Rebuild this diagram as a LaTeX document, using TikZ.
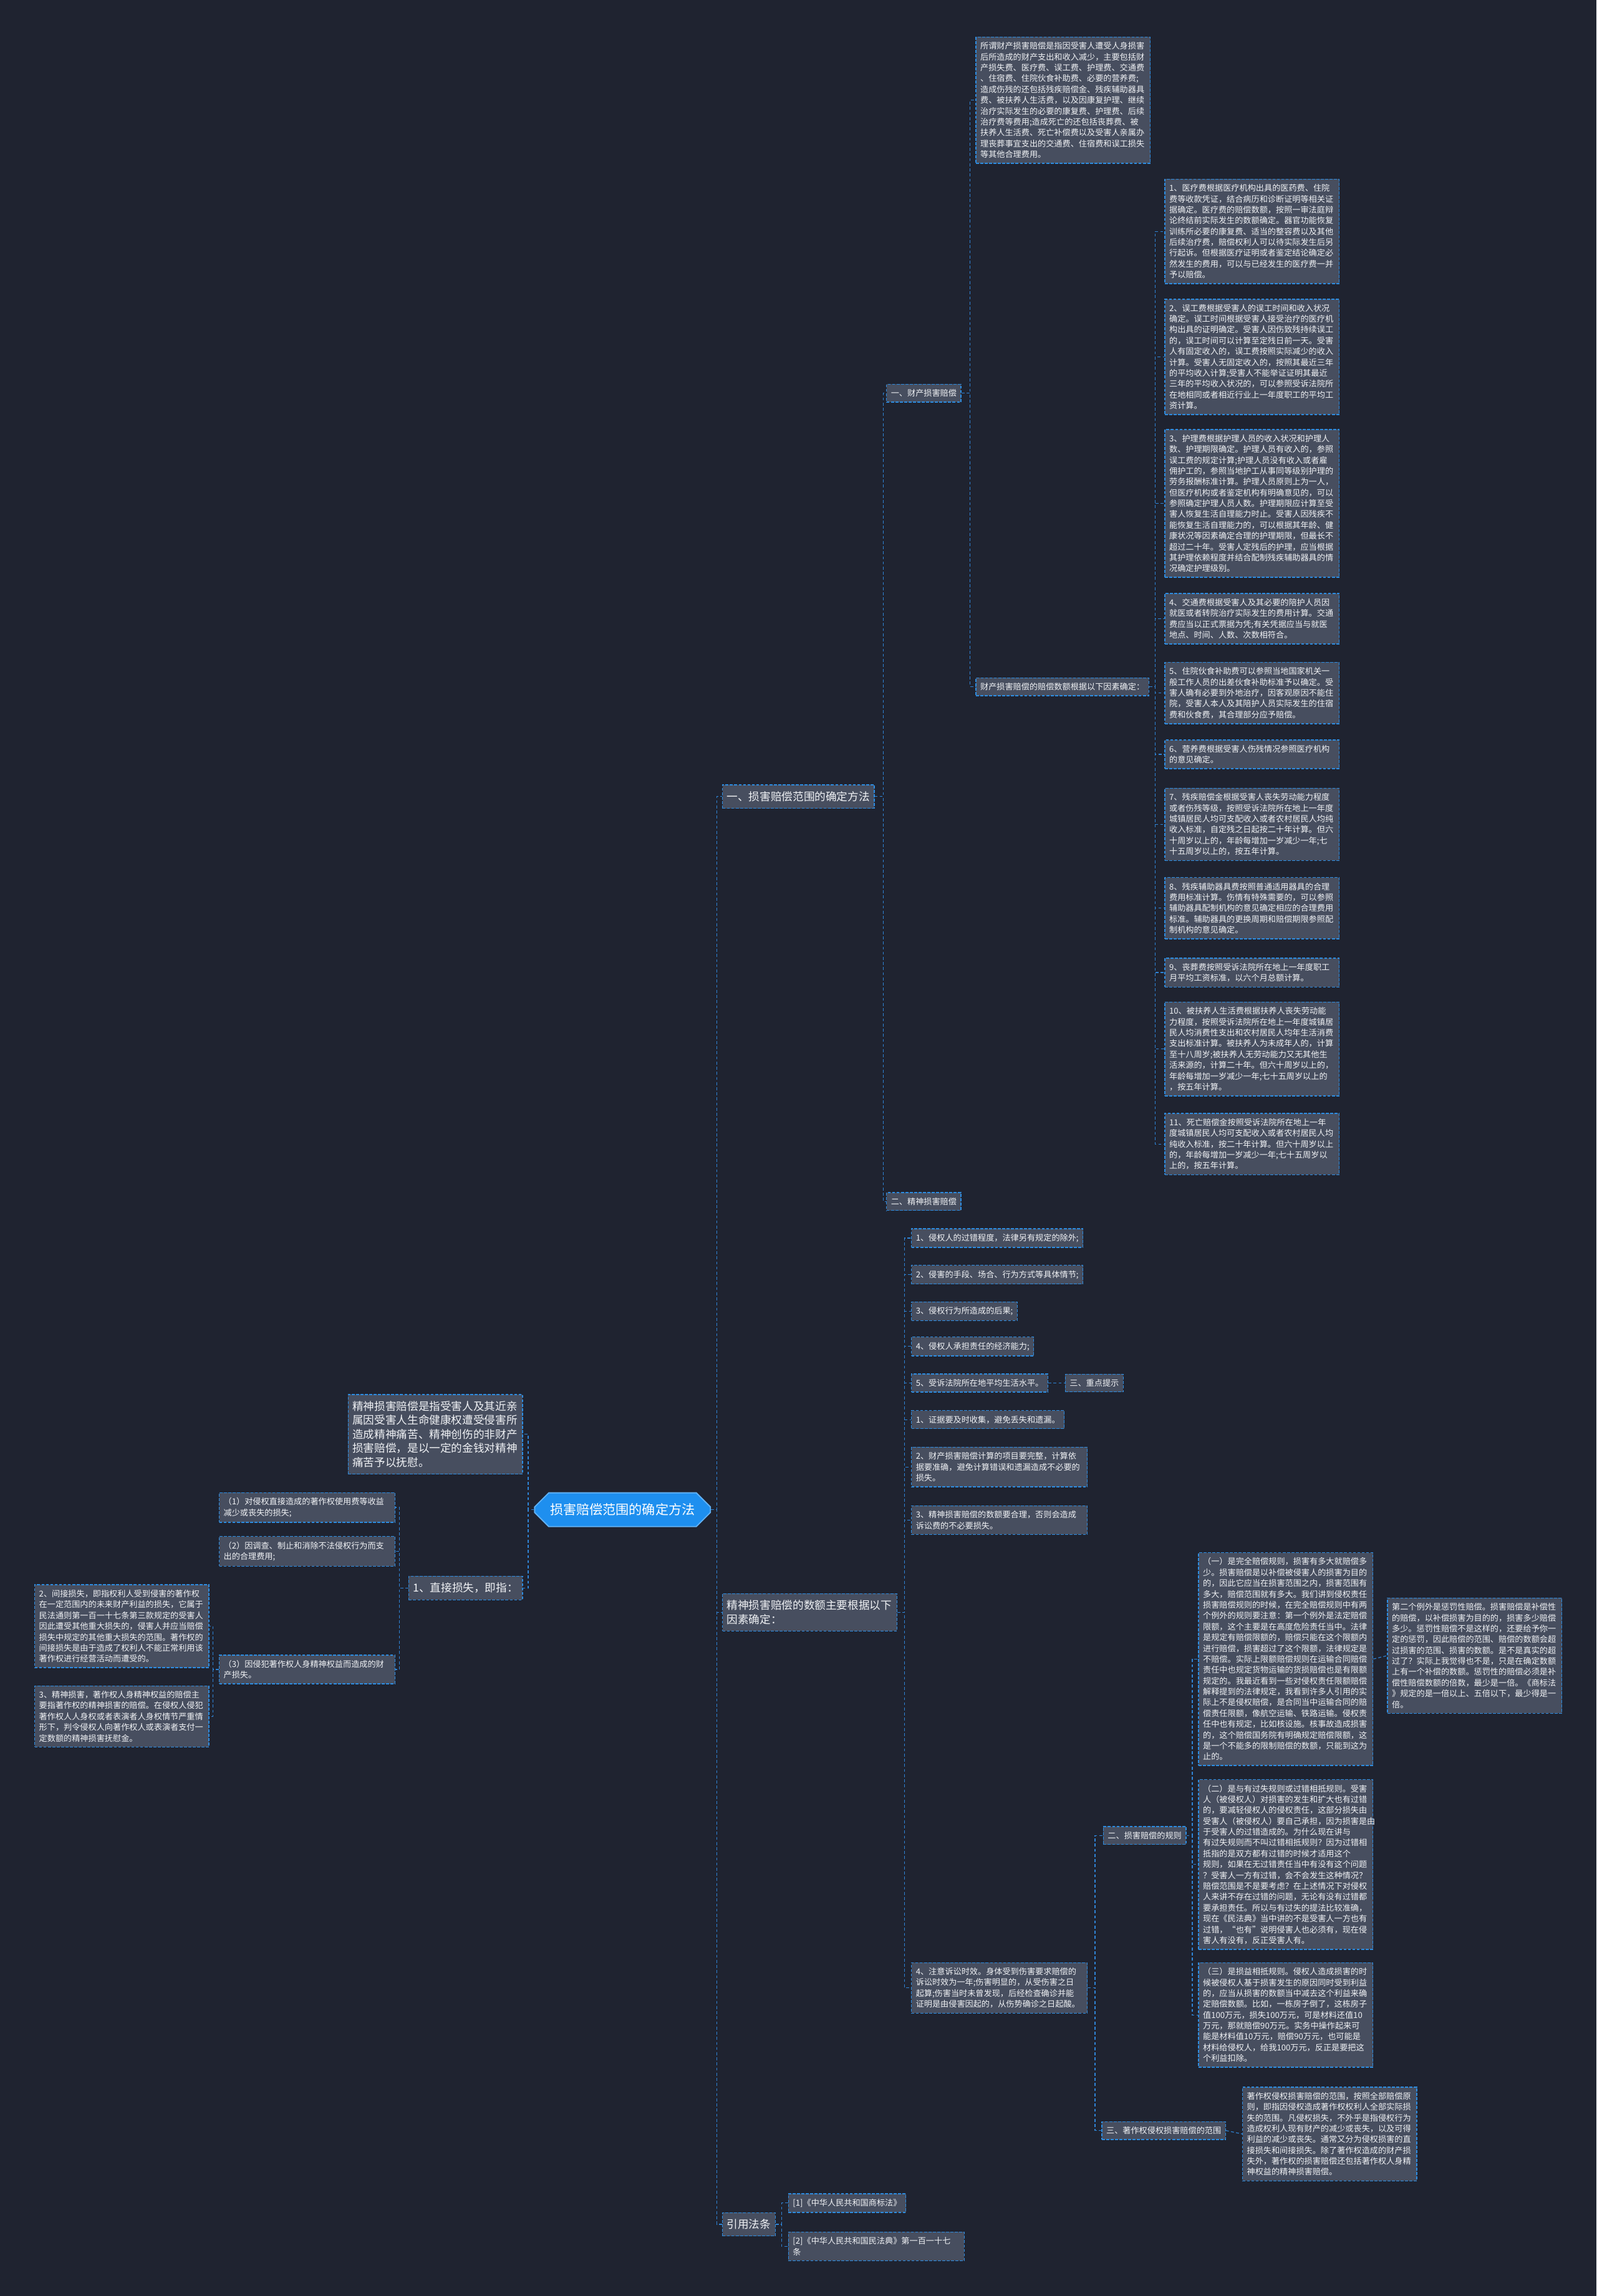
\documentclass[tikz,border=0pt]{standalone}
\usepackage{fontspec}
\setmainfont{Noto Sans CJK SC}
\usetikzlibrary{shapes.misc}

\definecolor{bgnavy}{HTML}{1F2330}
\definecolor{boxfill}{HTML}{474E5F}
\definecolor{edgeblue}{HTML}{2D8CE0}
\definecolor{linkblue}{HTML}{2F84D6}
\definecolor{txtwhite}{HTML}{F0F2F5}
\definecolor{rootblue}{HTML}{1E8FEF}

\tikzset{
  box/.style={draw=edgeblue, fill=boxfill, text=txtwhite, line width=0.6pt,
    dash pattern=on 2pt off 1pt, inner xsep=3pt, inner ysep=3.5pt,
    align=left, font=\fontsize{5.6}{7.4}\selectfont},
  para/.style={box, text width=#1},
  para/.default=113pt,
  bigbox/.style={box, inner ysep=4.5pt, font=\fontsize{7.5}{9.6}\selectfont},
  rootbox/.style={chamfered rectangle, chamfered rectangle xsep=6pt,
    fill=rootblue, draw=rootblue!70!white, line width=0.8pt, text=white,
    minimum width=120pt, minimum height=23pt, inner xsep=4pt,
    font=\fontsize{9}{11}\selectfont},
  link/.style={draw=linkblue, line width=0.5pt, dash pattern=on 2pt off 1.5pt}
}

\begin{document}
\begin{tikzpicture}[x=1pt,y=-1pt]

% Background
\fill[bgnavy] (0,0) rectangle (1090,1568);
\useasboundingbox (0,0) rectangle (1090,1568);

% Root
\node[rootbox] (root) at (425,1031) {损害赔偿范围的确定方法};

% Right main branches
\node[bigbox, anchor=west] (fangfa) at (493,544) {一、损害赔偿范围的确定方法};
\node[bigbox, anchor=north west, text width=113pt] (shue) at (493,1088)
  {精神损害赔偿的数额主要根据以下\\因素确定：};
\node[bigbox, anchor=west] (yinyong) at (493,1519) {引用法条};

% Section one
\node[box, anchor=west] (caichan) at (605,268.5) {一、财产损害赔偿};
\node[box, anchor=west] (jingshen) at (605,820.5) {二、精神损害赔偿};

\node[para, anchor=north west] (cdef) at (666,25)
  {所谓财产损害赔偿是指因受害人遭受人身损害\\后所造成的财产支出和收入减少，主要包括财\\产损失费、医疗费、误工费、护理费、交通费\\、住宿费、住院伙食补助费、必要的营养费;\\造成伤残的还包括残疾赔偿金、残疾辅助器具\\费、被扶养人生活费，以及因康复护理、继续\\治疗实际发生的必要的康复费、护理费、后续\\治疗费等费用;造成死亡的还包括丧葬费、被\\扶养人生活费、死亡补偿费以及受害人亲属办\\理丧葬事宜支出的交通费、住宿费和误工损失\\等其他合理费用。};
\node[box, anchor=west] (cyinsu) at (666,469) {财产损害赔偿的赔偿数额根据以下因素确定：};

% Eleven items
\node[para, anchor=north west] (f1) at (795,122)
  {1、医疗费根据医疗机构出具的医药费、住院\\费等收款凭证，结合病历和诊断证明等相关证\\据确定。医疗费的赔偿数额，按照一审法庭辩\\论终结前实际发生的数额确定。器官功能恢复\\训练所必要的康复费、适当的整容费以及其他\\后续治疗费，赔偿权利人可以待实际发生后另\\行起诉。但根据医疗证明或者鉴定结论确定必\\然发生的费用，可以与已经发生的医疗费一并\\予以赔偿。};
\node[para, anchor=north west] (f2) at (795,204)
  {2、误工费根据受害人的误工时间和收入状况\\确定。误工时间根据受害人接受治疗的医疗机\\构出具的证明确定。受害人因伤致残持续误工\\的，误工时间可以计算至定残日前一天。受害\\人有固定收入的，误工费按照实际减少的收入\\计算。受害人无固定收入的，按照其最近三年\\的平均收入计算;受害人不能举证证明其最近\\三年的平均收入状况的，可以参照受诉法院所\\在地相同或者相近行业上一年度职工的平均工\\资计算。};
\node[para, anchor=north west] (f3) at (795,293)
  {3、护理费根据护理人员的收入状况和护理人\\数、护理期限确定。护理人员有收入的，参照\\误工费的规定计算;护理人员没有收入或者雇\\佣护工的，参照当地护工从事同等级别护理的\\劳务报酬标准计算。护理人员原则上为一人，\\但医疗机构或者鉴定机构有明确意见的，可以\\参照确定护理人员人数。护理期限应计算至受\\害人恢复生活自理能力时止。受害人因残疾不\\能恢复生活自理能力的，可以根据其年龄、健\\康状况等因素确定合理的护理期限，但最长不\\超过二十年。受害人定残后的护理，应当根据\\其护理依赖程度并结合配制残疾辅助器具的情\\况确定护理级别。};
\node[para, anchor=north west] (f4) at (795,405)
  {4、交通费根据受害人及其必要的陪护人员因\\就医或者转院治疗实际发生的费用计算。交通\\费应当以正式票据为凭;有关凭据应当与就医\\地点、时间、人数、次数相符合。};
\node[para, anchor=north west] (f5) at (795,452)
  {5、住院伙食补助费可以参照当地国家机关一\\般工作人员的出差伙食补助标准予以确定。受\\害人确有必要到外地治疗，因客观原因不能住\\院，受害人本人及其陪护人员实际发生的住宿\\费和伙食费，其合理部分应予赔偿。};
\node[para, anchor=north west] (f6) at (795,505)
  {6、营养费根据受害人伤残情况参照医疗机构\\的意见确定。};
\node[para, anchor=north west] (f7) at (795,538)
  {7、残疾赔偿金根据受害人丧失劳动能力程度\\或者伤残等级，按照受诉法院所在地上一年度\\城镇居民人均可支配收入或者农村居民人均纯\\收入标准，自定残之日起按二十年计算。但六\\十周岁以上的，年龄每增加一岁减少一年;七\\十五周岁以上的，按五年计算。};
\node[para, anchor=north west] (f8) at (795,599)
  {8、残疾辅助器具费按照普通适用器具的合理\\费用标准计算。伤情有特殊需要的，可以参照\\辅助器具配制机构的意见确定相应的合理费用\\标准。辅助器具的更换周期和赔偿期限参照配\\制机构的意见确定。};
\node[para, anchor=north west] (f9) at (795,654)
  {9、丧葬费按照受诉法院所在地上一年度职工\\月平均工资标准，以六个月总额计算。};
\node[para, anchor=north west] (f10) at (795,684)
  {10、被扶养人生活费根据扶养人丧失劳动能\\力程度，按照受诉法院所在地上一年度城镇居\\民人均消费性支出和农村居民人均年生活消费\\支出标准计算。被扶养人为未成年人的，计算\\至十八周岁;被扶养人无劳动能力又无其他生\\活来源的，计算二十年。但六十周岁以上的，\\年龄每增加一岁减少一年;七十五周岁以上的\\，按五年计算。};
\node[para, anchor=north west] (f11) at (795,760)
  {11、死亡赔偿金按照受诉法院所在地上一年\\度城镇居民人均可支配收入或者农村居民人均\\纯收入标准，按二十年计算。但六十周岁以上\\的，年龄每增加一岁减少一年;七十五周岁以\\上的，按五年计算。};

% Factors for mental damage
\node[box, anchor=west] (s1) at (622,845.5) {1、侵权人的过错程度，法律另有规定的除外;};
\node[box, anchor=west] (s2) at (622,870.5) {2、侵害的手段、场合、行为方式等具体情节;};
\node[box, anchor=west] (s3) at (622,895.5) {3、侵权行为所造成的后果;};
\node[box, anchor=west] (s4) at (622,919.5) {4、侵权人承担责任的经济能力;};
\node[box, anchor=west] (s5) at (622,944.5) {5、受诉法院所在地平均生活水平。};
\node[box, anchor=west] (tishi) at (727,944.5) {三、重点提示};
\node[box, anchor=west] (t1) at (622,969.5) {1、证据要及时收集，避免丢失和遗漏。};
\node[para=114pt, anchor=north west] (t2) at (622,988)
  {2、财产损害赔偿计算的项目要完整，计算依\\据要准确，避免计算错误和遗漏造成不必要的\\损失。};
\node[para=114pt, anchor=north west] (t3) at (622,1028)
  {3、精神损害赔偿的数额要合理，否则会造成\\诉讼费的不必要损失。};
\node[para=114pt, anchor=north west] (t4) at (622,1340)
  {4、注意诉讼时效。身体受到伤害要求赔偿的\\诉讼时效为一年;伤害明显的，从受伤害之日\\起算;伤害当时未曾发现，后经检查确诊并能\\证明是由侵害因起的，从伤势确诊之日起酸。};

% Rules of compensation
\node[box, anchor=west] (guize) at (753,1253.5) {二、损害赔偿的规则};
\node[box, anchor=west] (zzq) at (752,1455) {三、著作权侵权损害赔偿的范围};

\node[para, anchor=north west] (g1) at (818,1060)
  {（一）是完全赔偿规则，损害有多大就赔偿多\\少。损害赔偿是以补偿被侵害人的损害为目的\\的，因此它应当在损害范围之内，损害范围有\\多大，赔偿范围就有多大。我们讲到侵权责任\\损害赔偿规则的时候，在完全赔偿规则中有两\\个例外的规则要注意：第一个例外是法定赔偿\\限额，这个主要是在高度危险责任当中。法律\\是规定有赔偿限额的，赔偿只能在这个限额内\\进行赔偿，损害超过了这个限额，法律规定是\\不赔偿。实际上限额赔偿规则在运输合同赔偿\\责任中也规定货物运输的货损赔偿也是有限额\\规定的。我最近看到一些对侵权责任限额赔偿\\解释提到的法律规定，我看到许多人引用的实\\际上不是侵权赔偿，是合同当中运输合同的赔\\偿责任限额，像航空运输、铁路运输。侵权责\\任中也有规定，比如核设施。核事故造成损害\\的，这个赔偿国务院有明确规定赔偿限额，这\\是一个不能多的限制赔偿的数额，只能到这为\\止的。};
\node[para, anchor=north west] (liwai) at (947,1091)
  {第二个例外是惩罚性赔偿。损害赔偿是补偿性\\的赔偿，以补偿损害为目的的，损害多少赔偿\\多少。惩罚性赔偿不是这样的，还要给予你一\\定的惩罚，因此赔偿的范围、赔偿的数额会超\\过损害的范围、损害的数额。是不是真实的超\\过了？实际上我觉得也不是，只是在确定数额\\上有一个补偿的数额。惩罚性的赔偿必须是补\\偿性赔偿数额的倍数，最少是一倍。《商标法\\》规定的是一倍以上、五倍以下，最少得是一\\倍。};
\node[para, anchor=north west] (g2) at (818,1215)
  {（二）是与有过失规则或过错相抵规则。受害\\人（被侵权人）对损害的发生和扩大也有过错\\的，要减轻侵权人的侵权责任，这部分损失由\\受害人（被侵权人）要自己承担，因为损害是由\\于受害人的过错造成的。为什么现在讲与\\有过失规则而不叫过错相抵规则？因为过错相\\抵指的是双方都有过错的时候才适用这个\\规则，如果在无过错责任当中有没有这个问题\\？受害人一方有过错，会不会发生这种情况？\\赔偿范围是不是要考虑？在上述情况下对侵权\\人来讲不存在过错的问题，无论有没有过错都\\要承担责任。所以与有过失的提法比较准确，\\现在《民法典》当中讲的不是受害人一方也有\\过错，“也有”说明侵害人也必须有，现在侵\\害人有没有，反正受害人有。};
\node[para, anchor=north west] (g3) at (818,1340)
  {（三）是损益相抵规则。侵权人造成损害的时\\候被侵权人基于损害发生的原因同时受到利益\\的，应当从损害的数额当中减去这个利益来确\\定赔偿数额。比如，一栋房子倒了，这栋房子\\值100万元，损失100万元，可是材料还值10\\万元，那就赔偿90万元。实务中操作起来可\\能是材料值10万元，赔偿90万元，也可能是\\材料给侵权人，给我100万元，反正是要把这\\个利益扣除。};
\node[para, anchor=north west] (zzqtext) at (848,1425)
  {著作权侵权损害赔偿的范围，按照全部赔偿原\\则，即指因侵权造成著作权权利人全部实际损\\失的范围。凡侵权损失，不外乎是指侵权行为\\造成权利人现有财产的减少或丧失，以及可得\\利益的减少或丧失。通常又分为侵权损害的直\\接损失和间接损失。除了著作权造成的财产损\\失外，著作权的损害赔偿还包括著作权人身精\\神权益的精神损害赔偿。};

% Cited laws
\node[box, anchor=west] (law1) at (538,1504.5) {[1]《中华人民共和国商标法》};
\node[para=114pt, anchor=north west] (law2) at (538,1524)
  {[2]《中华人民共和国民法典》第一百一十七\\条};

% Left side
\node[bigbox, anchor=north east, text width=113pt] (jdef) at (357,952)
  {精神损害赔偿是指受害人及其近亲\\属因受害人生命健康权遭受侵害所\\造成精神痛苦、精神创伤的非财产\\损害赔偿，是以一定的金钱对精神\\痛苦予以抚慰。};
\node[bigbox, anchor=east] (zhijie) at (357,1084.5) {1、直接损失，即指：};
\node[para=114pt, anchor=north east] (z1) at (270,1019)
  {（1）对侵权直接造成的著作权使用费等收益\\减少或丧失的损失;};
\node[para=114pt, anchor=north east] (z2) at (270,1049)
  {（2）因调查、制止和消除不法侵权行为而支\\出的合理费用;};
\node[para=114pt, anchor=north east] (z3) at (270,1130)
  {（3）因侵犯著作权人身精神权益而造成的财\\产损失。};
\node[para, anchor=north east] (jianjie) at (143,1082)
  {2、间接损失，即指权利人受到侵害的著作权\\在一定范围内的未来财产利益的损失，它属于\\民法通则第一百一十七条第三款规定的受害人\\因此遭受其他重大损失的，侵害人并应当赔偿\\损失中规定的其他重大损失的范围。著作权的\\间接损失是由于造成了权利人不能正常利用该\\著作权进行经营活动而遭受的。};
\node[para, anchor=north east] (jsss) at (143,1151)
  {3、精神损害，著作权人身精神权益的赔偿主\\要指著作权的精神损害的赔偿。在侵权人侵犯\\著作权人人身权或者表演者人身权情节严重情\\形下，判令侵权人向著作权人或表演者支付一\\定数额的精神损害抚慰金。};

% Connectors, right
\foreach \c in {fangfa,shue,yinyong}
  \draw[link] (root.east) -- ++(4,0) |- (\c.west);
\foreach \c in {caichan,jingshen}
  \draw[link] (fangfa.east) -- ++(6,0) |- (\c.west);
\foreach \c in {cdef,cyinsu}
  \draw[link] (caichan.east) -- ++(6,0) |- (\c.west);
\foreach \n in {1,...,11}
  \draw[link] (cyinsu.east) -- ++(4,0) |- (f\n.west);
\foreach \c in {s1,s2,s3,s4,s5,t1,t2,t3,t4}
  \draw[link] (shue.east) -- ++(5,0) |- (\c.west);
\draw[link] (s5.east) -- (tishi.west);
\foreach \c in {guize,zzq}
  \draw[link] (t4.east) -- ++(5,0) |- (\c.west);
\foreach \c in {g1,g2,g3}
  \draw[link] (guize.east) -- ++(4,0) |- (\c.west);
\draw[link] (g1.east) -- (liwai.west);
\draw[link] (zzq.east) -- (zzqtext.west);
\foreach \c in {law1,law2}
  \draw[link] (yinyong.east) -- ++(4,0) |- (\c.west);

% Connectors, left
\foreach \c in {jdef,zhijie}
  \draw[link] (root.west) -- ++(-4,0) |- (\c.east);
\foreach \c in {z1,z2,z3}
  \draw[link] (zhijie.west) -- ++(-6,0) |- (\c.east);
\foreach \c in {jianjie,jsss}
  \draw[link] (z3.west) -- ++(-4,0) |- (\c.east);

\end{tikzpicture}
\end{document}
